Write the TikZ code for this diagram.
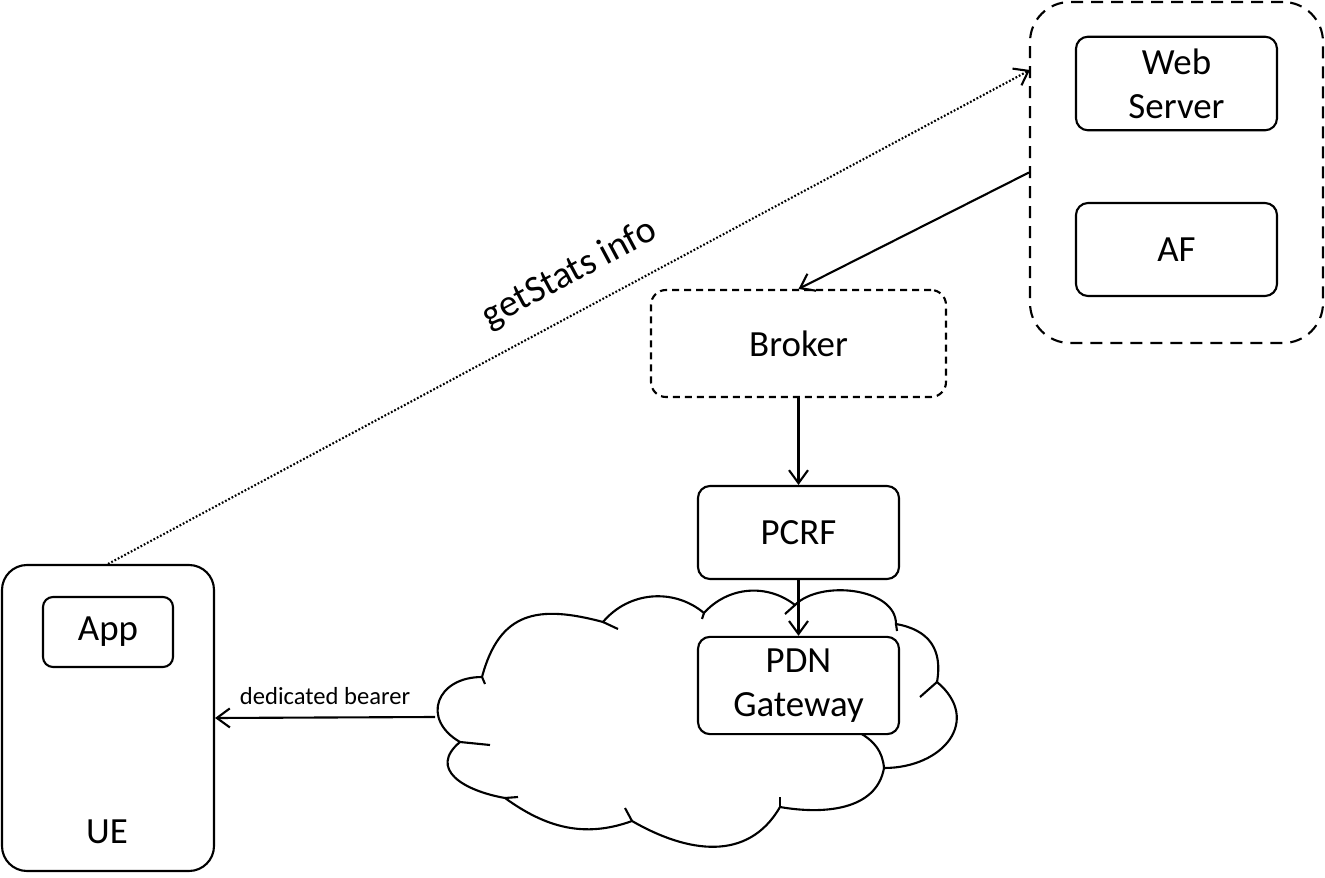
\documentclass[tikz,border=0pt]{standalone}
\usepackage{fontspec}
\setmainfont{Carlito}
\usetikzlibrary{arrows.meta}

\begin{document}
\begin{tikzpicture}[
		box/.style={draw,line width=0.6pt,rounded corners=0.12cm,fill=white,minimum width=2.01cm,minimum height=0.93cm,align=center,font=\fontsize{10.5}{12.6}\selectfont},
		link/.style={line width=0.6pt,-{Straight Barb[length=1.3mm,width=1.9mm]}}
	]
		\useasboundingbox (0,0) rectangle (13.25,8.77);
		
		% the cloud
		\draw[line width=0.6pt]
		(4.82,2.00) to[out=75,in=165,looseness=1.3] (6.03,2.55)
		to[bend left=45] (7.04,2.64)
		to[bend left=43] (7.95,2.72)
		to[out=45,in=90,looseness=0.9] (8.96,2.53)
		to[out=-10,in=80,looseness=1.2] (9.37,1.95)
		to[out=-40,in=0,looseness=1.5] (8.84,1.09)
		to[out=-100,in=-10] (7.80,0.70)
		to[out=-120,in=-30,looseness=1.1] (6.32,0.56)
		to[out=-160,in=-36] (5.05,0.79)
		to[out=170,in=-140,looseness=1.5] (4.60,1.35)
		to[out=150,in=180,looseness=1.7] cycle;
		% the small hooks of the puffs
		\foreach \a/\b in {{4.82,2.00}/{4.85,1.93},{6.03,2.55}/{6.18,2.48},{7.04,2.64}/{7.02,2.58},{7.95,2.72}/{7.85,2.63},{8.96,2.53}/{8.97,2.46},{9.37,1.95}/{9.20,1.80},{7.80,0.70}/{7.80,0.80},{6.32,0.56}/{6.25,0.69},{5.05,0.79}/{5.18,0.80},{4.60,1.35}/{4.90,1.32}}
		{
			\draw[line width=0.6pt] (\a) -- (\b);
		}
		\draw[line width=0.6pt] (8.60,1.44) to[out=-30,in=95] (8.84,1.09);
		\coordinate (cloudw) at (4.35,1.60);
		
		% the server side
		\node[box,minimum width=2.93cm,minimum height=3.41cm,rounded corners=0.4cm,dash pattern=on 1.2mm off 0.8mm] (server) at (11.765,7.045) {};
		\node[box] (web) at (11.765,7.935) {Web\\Server};
		\node[box] (af) at (11.765,6.275) {AF};
		\coordinate (statsin) at (10.30,8.07);
		
		% the core network
		\node[box,minimum width=2.95cm,minimum height=1.07cm,rounded corners=0.15cm,dash pattern=on 0.7mm off 0.5mm] (broker) at (7.985,5.335) {Broker};
		\node[box] (pcrf) at (7.985,3.445) {PCRF};
		\node[box] (pdn) at (7.985,1.915) {PDN\\Gateway};
		
		% the user equipment
		\node[box,minimum width=2.12cm,minimum height=3.06cm,rounded corners=0.25cm] (ue) at (1.08,1.59) {};
		\node[box,minimum width=1.30cm,minimum height=0.70cm,rounded corners=0.1cm] (app) at (1.08,2.45) {App};
		\node[font=\fontsize{10.5}{12.6}\selectfont] (uelabel) at (1.07,0.45) {UE};
		
		% the arrows
		\draw[link] (server.west) -- (broker.north);
		\draw[link] (broker.south) -- (pcrf.north);
		\draw[link] (pcrf.south) -- (pdn.north);
		\draw[link] (cloudw) -- (ue.east) node[midway,above,font=\fontsize{7}{8}\selectfont] {dedicated bearer};
		\draw[link,dash pattern=on 0.5pt off 0.55pt] (ue.north) -- (statsin) node[pos=0.52,sloped,above=0.2cm,inner sep=0pt,font=\fontsize{10.8}{13}\selectfont] {getStats info};
	\end{tikzpicture}
\end{document}
